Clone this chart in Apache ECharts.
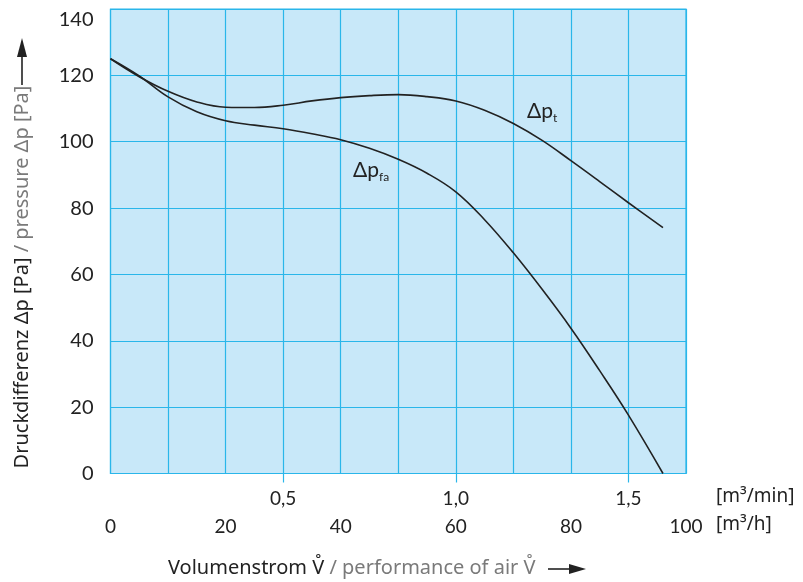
<!DOCTYPE html>
<html>
<head>
<meta charset="utf-8">
<script src="https://cdn.jsdelivr.net/npm/echarts@6/dist/echarts.min.js"></script>
<style>
html,body{margin:0;padding:0;background:#fff;}
#c{width:803px;height:582px;}
</style>
</head>
<body>
<div id="c"></div>
<script>
// flow in m3/h
var flow = [0, 5, 10, 15, 20, 25, 30, 35, 40, 45, 50, 55, 60, 65, 70, 75, 80, 85, 90, 96];
// total pressure difference Δp_t [Pa]
var dpT = [125, 119.6, 115.2, 112.0, 110.4, 110.3, 111.0, 112.3, 113.3, 113.9, 114.2, 113.6, 112.3, 109.5, 105.5, 100.4, 94.3, 88.0, 81.6, 74.1];
// free-blowing pressure difference Δp_fa [Pa]
var dpFa = [125, 119.8, 113.5, 109.0, 106.3, 105.0, 103.9, 102.4, 100.6, 98.0, 94.7, 90.5, 84.9, 76.5, 66.5, 55.5, 43.8, 31.0, 17.6, 0];
var yTicks = [0, 20, 40, 60, 80, 100, 120, 140];
var xTicksH = [0, 20, 40, 60, 80, 100];
var xTicksMin = [0.5, 1.0, 1.5];

var FONT = 'Lato, "Noto Sans", sans-serif';
var TFONT = '"Noto Sans", sans-serif';
var GRID = '#2ab6ea';
var BG = '#c8e8f9';
var INK = '#222222';
var GRAY = '#7a7a7a';

function pairs(xs, ys){ return xs.map(function(x,i){ return [x, ys[i]]; }); }

var chart = echarts.init(document.getElementById('c'), null, {renderer:'canvas'});
chart.setOption({
  animation: false,
  backgroundColor: '#ffffff',
  grid: {left: 110.5, right: 117, top: 9, bottom: 108.5, show: true, backgroundColor: BG, borderColor: GRID, borderWidth: 1.2},
  xAxis: [{
    type: 'value', min: 0, max: 100, interval: 10, position: 'bottom',
    axisLine: {show: true, lineStyle: {color: GRID, width: 1.2}},
    axisTick: {show: false},
    splitLine: {show: true, lineStyle: {color: GRID, width: 1.2}},
    axisLabel: {
      customValues: xTicksH,
      margin: 44, fontSize: 19, color: INK, fontFamily: FONT,
      formatter: function(v){ return String(v); }
    }
  }, {
    type: 'value', min: 0, max: 100/60, position: 'bottom',
    axisLine: {show: false},
    splitLine: {show: false},
    axisTick: {show: true, customValues: xTicksMin, length: 9, lineStyle: {color: GRID, width: 1.2}},
    axisLabel: {
      customValues: xTicksMin,
      margin: 16, fontSize: 19, color: INK, fontFamily: FONT,
      formatter: function(v){ return v.toFixed(1).replace('.', ','); }
    }
  }],
  yAxis: {
    type: 'value', min: 0, max: 140, interval: 20,
    axisLine: {show: false}, axisTick: {show: false},
    splitLine: {show: true, lineStyle: {color: GRID, width: 1.2}},
    axisLabel: {
      customValues: yTicks,
      margin: 17, fontSize: 20, color: INK, fontFamily: FONT,
      formatter: function(v){ return v === 140 ? '{top|' + v + '}' : String(v); },
      rich: {top: {fontSize: 20, color: INK, fontFamily: FONT, padding: [22, 0, 0, 0]}}
    }
  },
  series: [{
    name: 'Δp_t', type: 'line', xAxisIndex: 0, smooth: 0.4, showSymbol: false,
    data: pairs(flow, dpT), lineStyle: {color: INK, width: 1.6}
  }, {
    name: 'Δp_fa', type: 'line', xAxisIndex: 0, smooth: 0.4, showSymbol: false,
    data: pairs(flow, dpFa), lineStyle: {color: INK, width: 1.6}
  }],
  graphic: [
    {type: 'text', left: 527, top: 101, style: {
      text: '{m|Δp}{s|t}', rich: {m: {fontSize: 21, fill: INK, fontFamily: FONT}, s: {fontSize: 12, fill: INK, fontFamily: FONT, padding: [14, 0, 0, 0]}}}},
    {type: 'text', left: 353, top: 160, style: {
      text: '{m|Δp}{s|fa}', rich: {m: {fontSize: 21, fill: INK, fontFamily: FONT}, s: {fontSize: 12, fill: INK, fontFamily: FONT, padding: [14, 0, 0, 0]}}}},
    {type: 'text', left: 716, top: 487, style: {text: '[m³/min]', fontSize: 19, fill: INK, fontFamily: TFONT}},
    {type: 'text', left: 716, top: 515, style: {text: '[m³/h]', fontSize: 19, fill: INK, fontFamily: TFONT}},
    {type: 'text', x: 168, y: 568, style: {
      text: '{a|Volumenstrom V̊ }{b|/ performance of air V̊}', verticalAlign: 'middle', align: 'left',
      rich: {a: {fontSize: 20, fill: INK, fontFamily: TFONT}, b: {fontSize: 20, fill: GRAY, fontFamily: TFONT}}}},
    {type: 'line', shape: {x1: 548, y1: 569, x2: 572, y2: 569}, style: {stroke: INK, lineWidth: 1.6}},
    {type: 'polygon', shape: {points: [[569, 564], [569, 574], [586, 569]]}, style: {fill: INK}},
    {type: 'text', x: 22, y: 277, rotation: Math.PI/2, style: {
      text: '{a|Druckdifferenz Δp [Pa]}{b| / pressure Δp [Pa]}', verticalAlign: 'middle', align: 'center',
      rich: {a: {fontSize: 20, fill: INK, fontFamily: TFONT}, b: {fontSize: 20, fill: GRAY, fontFamily: TFONT}}}},
    {type: 'line', shape: {x1: 22, y1: 85, x2: 22, y2: 55}, style: {stroke: INK, lineWidth: 1.6}},
    {type: 'polygon', shape: {points: [[17, 57], [27, 57], [22, 38]]}, style: {fill: INK}}
  ]
});
</script>
</body>
</html>
